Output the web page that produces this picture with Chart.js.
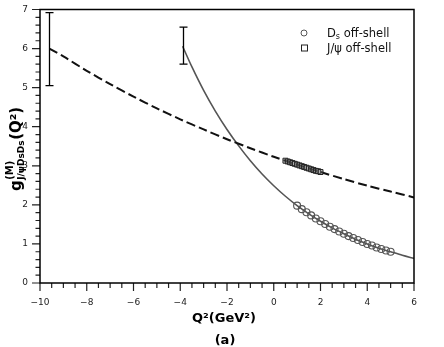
<!DOCTYPE html>
<html>
<head>
<meta charset="utf-8">
<script src="https://cdn.jsdelivr.net/npm/chart.js@4.4.0/dist/chart.umd.min.js"></script>
<style>
html, body { margin: 0; padding: 0; background: #fff; }
</style>
</head>
<body>
<canvas id="grafico" width="444" height="347"></canvas>
<script>
// curva de ajuste para J/psi off-shell (discontinua)
const q2Jpsi = [-9.6, -9, -8, -7, -6, -5, -4, -3, -2, -1, 0, 1, 2, 3, 4, 5, 6];
const gJpsi = [6.0, 5.80, 5.43, 5.09, 4.77, 4.47, 4.19, 3.93, 3.68, 3.45, 3.23, 3.03, 2.84, 2.66, 2.49, 2.34, 2.19];

// curva de ajuste para Ds off-shell (continua)
const q2Ds = [-3.9, -3.5, -3, -2.5, -2, -1.5, -1, -0.5, 0, 0.5, 1, 1.5, 2, 2.5, 3, 3.5, 4, 4.5, 5, 5.5, 6];
const gDs = [6.06, 5.53, 4.93, 4.40, 3.93, 3.51, 3.13, 2.79, 2.49, 2.22, 1.98, 1.77, 1.58, 1.41, 1.26, 1.12, 1.00, 0.89, 0.80, 0.71, 0.63];

// puntos QCDSR
const puntosDsX = [1.0, 1.2, 1.4, 1.6, 1.8, 2.0, 2.2, 2.4, 2.6, 2.8, 3.0, 3.2, 3.4, 3.6, 3.8, 4.0, 4.2, 4.4, 4.6, 4.8, 5.0];
const puntosDsY = [1.98, 1.89, 1.81, 1.73, 1.65, 1.58, 1.51, 1.44, 1.38, 1.32, 1.26, 1.20, 1.15, 1.10, 1.05, 1.00, 0.96, 0.91, 0.87, 0.83, 0.80];
const puntosJpsiX = [0.5, 0.6, 0.7, 0.8, 0.9, 1.0, 1.1, 1.2, 1.3, 1.4, 1.5, 1.6, 1.7, 1.8, 1.9, 2.0];
const puntosJpsiY = [3.13, 3.11, 3.09, 3.07, 3.05, 3.03, 3.01, 2.99, 2.97, 2.95, 2.93, 2.91, 2.89, 2.87, 2.86, 2.84];

// barras de error en Q^2 = -Q0^2
const errX = [-9.6, -3.9];
const errBajo = [5.05, 5.6];
const errAlto = [6.92, 6.55];

const ticksX = [-10, -8, -6, -4, -2, 0, 2, 4, 6];
const ticksY = [0, 1, 2, 3, 4, 5, 6, 7];

function puntos(xs, ys) {
    return xs.map((v, i) => ({ x: v, y: ys[i] }));
}

const fuente = '"DejaVu Sans"';

const extras = {
    id: 'extras',
    afterDatasetsDraw(chart) {
        const { ctx, scales: { x, y } } = chart;
        ctx.save();
        ctx.strokeStyle = '#000';
        ctx.lineWidth = 1.3;
        for (let i = 0; i < errX.length; i++) {
            const px = Math.round(x.getPixelForValue(errX[i])) + 0.5;
            const arriba = y.getPixelForValue(errAlto[i]);
            const abajo = y.getPixelForValue(errBajo[i]);
            ctx.beginPath();
            ctx.moveTo(px, arriba); ctx.lineTo(px, abajo);
            ctx.moveTo(px - 4, arriba); ctx.lineTo(px + 4, arriba);
            ctx.moveTo(px - 4, abajo); ctx.lineTo(px + 4, abajo);
            ctx.stroke();
        }
        ctx.restore();
    },
    afterDraw(chart) {
        const { ctx, chartArea: a, scales: { x, y } } = chart;
        ctx.save();

        // marcas menores y mayores
        ctx.strokeStyle = '#222';
        ctx.lineWidth = 1.2;
        ctx.beginPath();
        for (let k = 0; k <= 35; k++) {
            const py = y.getPixelForValue(k * 0.2);
            const largo = k % 5 === 0 ? 8 : 4.5;
            ctx.moveTo(a.left - largo, py);
            ctx.lineTo(a.left, py);
        }
        for (let k = 0; k <= 32; k++) {
            const px = x.getPixelForValue(-10 + k * 0.5);
            const largo = k % 4 === 0 ? 8 : 5;
            ctx.moveTo(px, a.bottom);
            ctx.lineTo(px, a.bottom + largo);
        }
        ctx.stroke();

        ctx.strokeStyle = '#000';
        ctx.lineWidth = 1.5;
        ctx.strokeRect(a.left, a.top, a.right - a.left, a.bottom - a.top);

        // titulo eje x
        ctx.fillStyle = '#000';
        ctx.textAlign = 'center';
        ctx.textBaseline = 'alphabetic';
        ctx.font = 'bold 13px ' + fuente;
        ctx.fillText('Q²(GeV²)', 224, 322);
        ctx.fillText('(a)', 225, 344);

        // titulo eje y
        ctx.save();
        ctx.translate(21, 191);
        ctx.rotate(-Math.PI / 2);
        ctx.textAlign = 'left';
        let cx = 0;
        ctx.font = 'bold 15px ' + fuente;
        ctx.fillText('g', cx, 0);
        cx += ctx.measureText('g').width + 0.5;
        ctx.font = 'bold 10px ' + fuente;
        ctx.fillText('(M)', cx, -8);
        const wSup = ctx.measureText('(M)').width;
        ctx.font = 'bold 9px ' + fuente;
        ctx.fillText('J/ψDsDs', cx, 3);
        const wSub = ctx.measureText('J/ψDsDs').width;
        cx += Math.max(wSup, wSub) + 0.5;
        ctx.font = 'bold 15px ' + fuente;
        ctx.fillText('(Q²)', cx, 0);
        ctx.restore();

        // leyenda
        ctx.lineWidth = 1;
        ctx.strokeStyle = '#555';
        ctx.beginPath();
        ctx.arc(304, 33, 3, 0, Math.PI * 2);
        ctx.stroke();
        ctx.strokeStyle = '#222';
        ctx.strokeRect(301.5, 45, 6, 6);
        ctx.fillStyle = '#111';
        ctx.textAlign = 'left';
        ctx.font = '11.5px ' + fuente;
        ctx.fillText('D', 327, 37);
        let lx = 327 + ctx.measureText('D').width;
        ctx.font = '8px ' + fuente;
        ctx.fillText('s', lx, 39);
        lx += ctx.measureText('s').width;
        ctx.font = '11.5px ' + fuente;
        ctx.fillText(' off-shell', lx, 37);
        ctx.fillText('J/ψ off-shell', 327, 52);
        ctx.restore();
    }
};

new Chart(document.getElementById('grafico'), {
    type: 'scatter',
    data: {
        datasets: [
            {
                data: puntos(puntosJpsiX, puntosJpsiY),
                pointStyle: 'rect',
                pointRadius: 3.5,
                borderColor: '#222',
                backgroundColor: 'rgba(120,120,120,0.35)',
                borderWidth: 1
            },
            {
                data: puntos(puntosDsX, puntosDsY),
                pointStyle: 'circle',
                pointRadius: 3.5,
                borderColor: '#555',
                backgroundColor: 'rgba(0,0,0,0)',
                borderWidth: 1.1
            },
            {
                data: puntos(q2Jpsi, gJpsi),
                showLine: true,
                pointRadius: 0,
                borderColor: '#111',
                borderWidth: 2,
                borderDash: [9, 4],
                tension: 0.3
            },
            {
                data: puntos(q2Ds, gDs),
                showLine: true,
                pointRadius: 0,
                borderColor: '#555',
                borderWidth: 1.6,
                tension: 0.3
            }
        ]
    },
    options: {
        responsive: false,
        animation: false,
        devicePixelRatio: 1,
        layout: { padding: { top: 9.5, right: 30, left: 0, bottom: 0 } },
        plugins: {
            legend: { display: false },
            tooltip: { enabled: false }
        },
        scales: {
            x: {
                min: -10,
                max: 6,
                grid: { display: false, drawTicks: false },
                border: { display: false },
                afterBuildTicks: (s) => { s.ticks = ticksX.map(v => ({ value: v })); },
                afterFit: (s) => { s.height = 64; s.paddingLeft = 0; s.paddingRight = 0; },
                ticks: {
                    padding: 14,
                    maxRotation: 0,
                    color: '#222',
                    font: { family: 'DejaVu Sans', size: 9 },
                    callback: (v) => String(v).replace('-', '\u2212')
                }
            },
            y: {
                min: 0,
                max: 7,
                grid: { display: false, drawTicks: false },
                border: { display: false },
                afterBuildTicks: (s) => { s.ticks = ticksY.map(v => ({ value: v })); },
                afterFit: (s) => { s.width = 40; s.paddingTop = 0; s.paddingBottom = 0; },
                ticks: {
                    padding: 12,
                    color: '#222',
                    font: { family: 'DejaVu Sans', size: 9 }
                }
            }
        }
    },
    plugins: [extras]
});
</script>
</body>
</html>
